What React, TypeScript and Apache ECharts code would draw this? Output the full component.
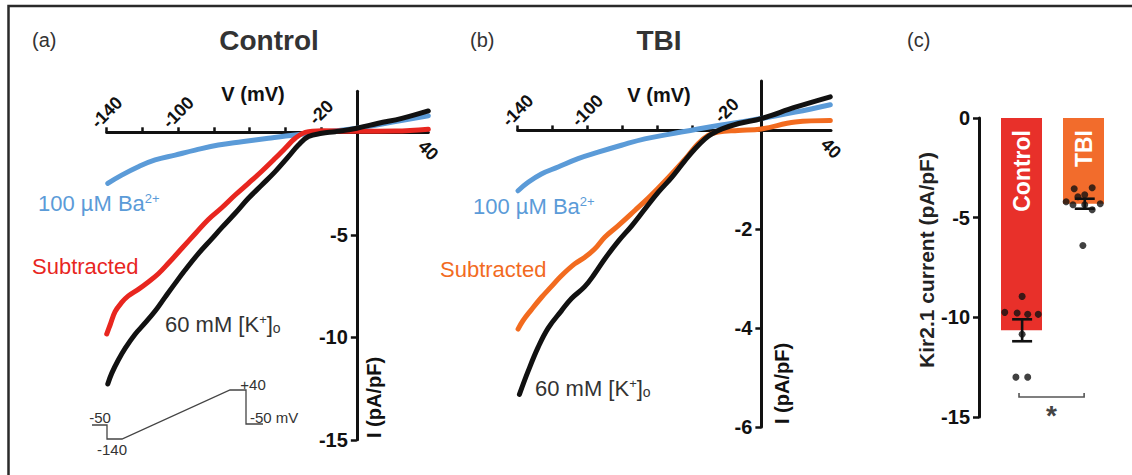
import { useEffect, useRef } from "react";
import * as echarts from "echarts";

const FONT = '"Liberation Sans", Arial, Helvetica, sans-serif';

// ---------- Panel (a) Control: I–V traces, [V (mV), I (pA/pF)] ----------
const ctrlBa: [number, number][] = [
  [-139.4, -2.49], [-131.6, -2.09], [-122.3, -1.68], [-112.9, -1.35], [-101.7, -1.11],
  [-90.5, -0.87], [-77.5, -0.62], [-64.4, -0.46], [-49.5, -0.29], [-34.5, -0.13],
  [-19.6, 0], [0, 0.2], [20, 0.5], [40, 0.81],
];
const ctrlSub: [number, number][] = [
  [-140, -9.84], [-138.1, -9.4], [-135.3, -8.75], [-131.6, -8.3], [-127.9, -7.98],
  [-122.3, -7.66], [-116.7, -7.3], [-111.1, -6.9], [-105.5, -6.39], [-97.5, -5.62],
  [-90.5, -4.95], [-83.1, -4.25], [-75.6, -3.68], [-68.1, -3.06], [-60.7, -2.49],
  [-53.2, -1.9], [-45.7, -1.27], [-40.1, -0.78], [-34.5, -0.29], [-28.9, 0],
  [-19.6, 0.08], [0, 0.05], [21.4, 0.06], [40, 0.15],
];
const ctrlK: [number, number][] = [
  [-139.4, -12.28], [-137.2, -11.76], [-133.5, -11.11], [-129.7, -10.54], [-124.1, -9.85],
  [-118.5, -9.3], [-112.9, -8.72], [-107.3, -8.04], [-101.7, -7.37], [-96.1, -6.72],
  [-88.7, -5.92], [-81.2, -5.2], [-75.6, -4.65], [-68.1, -3.95], [-60.7, -3.22],
  [-53.2, -2.57], [-45.7, -1.92], [-38.3, -1.19], [-32.7, -0.62], [-27.1, -0.21],
  [-19.6, -0.05], [-12.1, 0.03], [0, 0.2], [12.1, 0.44], [25.2, 0.68], [40, 1.04],
];

// ---------- Panel (b) TBI ----------
const tbiBa: [number, number][] = [
  [-139.8, -1.22], [-134, -1.05], [-126.4, -0.88], [-116.8, -0.74], [-105.3, -0.57],
  [-93.8, -0.44], [-80.4, -0.3], [-67, -0.17], [-51.7, -0.07], [-36.4, 0.03],
  [-21, 0.12], [0, 0.24], [19.5, 0.37], [39.6, 0.52],
];
const tbiSub: [number, number][] = [
  [-139.8, -4.02], [-137, -3.85], [-132.2, -3.63], [-126.4, -3.38], [-120.7, -3.16],
  [-114.9, -2.94], [-107.3, -2.7], [-101.6, -2.57], [-95.8, -2.4], [-90, -2.16],
  [-82.4, -1.93], [-72.7, -1.62], [-65, -1.37], [-57.4, -1.1], [-49.7, -0.81],
  [-42.1, -0.51], [-36.4, -0.27], [-30.6, -0.1], [-24.9, -0.03], [-13.4, 0],
  [0, 0.03], [19.5, 0.17], [39.6, 0.2],
];
const tbiK: [number, number][] = [
  [-139, -5.34], [-134, -4.87], [-128.3, -4.39], [-122.5, -4.0], [-114.9, -3.65],
  [-109.1, -3.4], [-101.5, -3.16], [-95.8, -2.9], [-90, -2.6], [-82.4, -2.25],
  [-74.5, -1.93], [-66.9, -1.59], [-59.2, -1.25], [-51.5, -0.95], [-43.9, -0.61],
  [-38.1, -0.37], [-32.4, -0.17], [-28.4, -0.07], [-22.6, 0.03], [-13, 0.14],
  [0, 0.24], [19.5, 0.47], [39.6, 0.68],
];

// ---------- Axis ticks / labels ----------
const ivTickValues = [-140, -120, -100, -80, -60, -40, -20];
const ivLabelValues = [-140, -100, -20];
const ivEndLabelValues = [40];
const ctrlYValues = [-15, -10, -5];
const tbiYValues = [-6, -4, -2];
const ctrlYRange = [-15, 2];
const tbiYRange = [-6, 1];
const vRange = [-140, 40];

// ---------- Panel (c) Kir2.1 current ----------
const groups = ["Control", "TBI"];
const groupX = [1, 2];
const groupMeans = [-10.65, -4.3];
const groupErrX = [1.01, 2.02];
const groupSemLow = [-11.2, -4.55];
const groupSemHigh = [-10.1, -4.05];
const controlPoints: [number, number][] = [
  [1.01, -8.95], [0.73, -9.75], [0.93, -9.78], [1.1, -9.85], [1.27, -9.85],
  [1.01, -10.85], [0.91, -13.0], [1.1, -13.0],
];
const tbiPoints: [number, number][] = [
  [1.85, -3.55], [2.14, -3.5], [2.02, -3.85], [1.91, -3.95], [1.72, -4.2],
  [1.83, -4.35], [2.02, -4.35], [2.27, -4.3], [2.14, -4.6], [1.99, -6.4],
];
const sigBracket = [0.96, 2.01, -14.0];
const sigMark = "*";

const protocolLabels = ["-50", "-140", "+40", "-50 mV"];

const BLUE = "#5b9bd8";
const RED = "#e8261f";
const ORANGE = "#f26b1f";
const BLACK = "#111111";
const BAR_RED = "#e8302a";
const BAR_ORANGE = "#f26c2c";

type G = { left: number; top: number; width: number; height: number };
const gridA: G = { left: 106.7, top: 91.3, width: 321.6, height: 348.5 };
const gridB: G = { left: 517.7, top: 81, width: 313.3, height: 346 };
const gridC: G = { left: 990.5, top: 118, width: 124, height: 299 };

const lblStyle = { fontFamily: FONT, fontWeight: "bold", color: BLACK };
const LABEL_ROT = -45;

function ivXAxes(grid: number, g: G, yr: number[]) {
  // pixel distances from grid edges to the zero lines
  const fromTop = (g.height * yr[1]) / (yr[1] - yr[0]);
  const fromBottom = g.height - fromTop;
  return [
    {
      type: "value", gridIndex: grid, min: vRange[0], max: vRange[1], position: "top", offset: -fromTop,
      axisLine: { show: true, onZero: false, lineStyle: { color: BLACK, width: 3 } },
      axisTick: { show: true, length: 5, customValues: ivTickValues, lineStyle: { color: BLACK, width: 2.5 } },
      axisLabel: {
        show: true, customValues: ivLabelValues, rotate: LABEL_ROT, margin: 20,
        align: "center", verticalAlign: "middle", fontSize: 18, ...lblStyle,
      },
      splitLine: { show: false },
    },
    {
      type: "value", gridIndex: grid, min: vRange[0], max: vRange[1], position: "bottom", offset: -fromBottom,
      axisLine: { show: false, onZero: false },
      axisTick: { show: false },
      axisLabel: {
        show: true, customValues: ivEndLabelValues, rotate: LABEL_ROT, margin: 18,
        align: "center", verticalAlign: "middle", fontSize: 18, ...lblStyle,
      },
      splitLine: { show: false },
    },
  ];
}

function ivYAxis(grid: number, g: G, yr: number[], values: number[]) {
  const fromLeft = (g.width * (0 - vRange[0])) / (vRange[1] - vRange[0]);
  return {
    type: "value", gridIndex: grid, min: yr[0], max: yr[1], position: "left", offset: -fromLeft,
    axisLine: { show: true, onZero: false, lineStyle: { color: BLACK, width: 3 } },
    axisTick: { show: true, length: 6, customValues: values, lineStyle: { color: BLACK, width: 2.5 } },
    axisLabel: { show: true, customValues: values, margin: 9, fontSize: 20, ...lblStyle },
    splitLine: { show: false },
  };
}

function trace(data: [number, number][], color: string, xi: number, yi: number) {
  return {
    type: "line", data, xAxisIndex: xi, yAxisIndex: yi, showSymbol: false, smooth: 0.4, clip: false,
    lineStyle: { color, width: 5, cap: "round", join: "round" }, silent: true,
  };
}

function txt(x: number, y: number, text: string, extra: any = {}, rot = 0) {
  const align = extra.align || "left";
  const va = extra.verticalAlign || "middle";
  return {
    type: "text", x, y, rotation: rot, silent: true,
    style: {
      text, fill: extra.fill || "#333", fontFamily: FONT,
      fontSize: extra.fontSize || 20, fontWeight: extra.fontWeight || "normal",
      align, textAlign: align, verticalAlign: va, textVerticalAlign: va,
      rich: extra.rich,
    },
  };
}

function baLabel(x: number, y: number) {
  return txt(x, y, "{m|100 µM Ba}{s|2+}", {
    fill: BLUE,
    rich: {
      m: { fontSize: 22, fill: BLUE, fontFamily: FONT },
      s: { fontSize: 13, fill: BLUE, fontFamily: FONT, verticalAlign: "top" },
    },
  });
}
function kLabel(x: number, y: number) {
  return txt(x, y, "{m|60 mM [K}{s|+}{m|]}{o|o}", {
    fill: "#333",
    rich: {
      m: { fontSize: 22, fill: "#333", fontFamily: FONT },
      s: { fontSize: 13, fill: "#333", fontFamily: FONT, verticalAlign: "top" },
      o: { fontSize: 14, fill: "#333", fontFamily: FONT, verticalAlign: "bottom" },
    },
  });
}

export default function App() {
  const ref = useRef<HTMLDivElement>(null);
  useEffect(() => {
    document.body.style.margin = "0";
    if (!ref.current) return;
    const chart = echarts.init(ref.current, null, { renderer: "svg" });

    const barData = groups.map((g, i) => ({
      name: g,
      value: [groupX[i], groupMeans[i]],
      itemStyle: { color: i === 0 ? BAR_RED : BAR_ORANGE },
    }));
    const errData = groups.map((_, i) => [groupErrX[i], groupSemLow[i], groupSemHigh[i]]);

    const gridOpt = (g: G) => ({ ...g, outerBoundsMode: "none", containLabel: false });

    const option: any = {
      animation: false,
      grid: [gridOpt(gridA), gridOpt(gridB), gridOpt(gridC)],
      xAxis: [
        ...ivXAxes(0, gridA, ctrlYRange),
        ...ivXAxes(1, gridB, tbiYRange),
        { type: "value", gridIndex: 2, min: 0.5, max: 2.5, show: false, splitLine: { show: false } },
      ],
      yAxis: [
        ivYAxis(0, gridA, ctrlYRange, ctrlYValues),
        ivYAxis(1, gridB, tbiYRange, tbiYValues),
        {
          type: "value", gridIndex: 2, min: -15, max: 0, interval: 5, position: "left", offset: 11.5,
          axisLine: { show: true, onZero: false, lineStyle: { color: BLACK, width: 3 } },
          axisTick: { show: true, length: 6, lineStyle: { color: BLACK, width: 2.5 } },
          axisLabel: { show: true, margin: 9, fontSize: 20, ...lblStyle },
          splitLine: { show: false },
        },
      ],
      series: [
        trace(ctrlBa, BLUE, 0, 0),
        trace(ctrlSub, RED, 0, 0),
        trace(ctrlK, BLACK, 0, 0),
        trace(tbiBa, BLUE, 2, 1),
        trace(tbiSub, ORANGE, 2, 1),
        trace(tbiK, BLACK, 2, 1),
        {
          type: "bar", xAxisIndex: 4, yAxisIndex: 2, barWidth: 41, data: barData, silent: true,
          label: {
            show: true, position: "insideTop", distance: 12, rotate: 90,
            align: "right", verticalAlign: "middle", formatter: "{b}",
            color: "#ffffff", fontFamily: FONT, fontWeight: "bold", fontSize: 23,
          },
          markLine: {
            silent: true, symbol: "none", label: { show: false },
            lineStyle: { color: "#666", width: 1, type: [2, 2] },
            data: [[{ coord: [0.42, 0] }, { coord: [2.56, 0] }]],
          },
        },
        {
          type: "custom", xAxisIndex: 4, yAxisIndex: 2, data: errData, silent: true, z: 5,
          renderItem: (_p: any, api: any) => {
            const x = api.value(0);
            const lo = api.coord([x, api.value(1)]);
            const hi = api.coord([x, api.value(2)]);
            const hw = 10;
            const st = { stroke: BLACK, lineWidth: 2.6 };
            return {
              type: "group",
              children: [
                { type: "line", shape: { x1: lo[0], y1: lo[1], x2: hi[0], y2: hi[1] }, style: st },
                { type: "line", shape: { x1: lo[0] - hw, y1: lo[1], x2: lo[0] + hw, y2: lo[1] }, style: st },
                { type: "line", shape: { x1: hi[0] - hw, y1: hi[1], x2: hi[0] + hw, y2: hi[1] }, style: st },
              ],
            };
          },
        },
        {
          type: "scatter", xAxisIndex: 4, yAxisIndex: 2, data: controlPoints, symbolSize: 7, silent: true, z: 6,
          itemStyle: { color: BLACK },
        },
        {
          type: "scatter", xAxisIndex: 4, yAxisIndex: 2, data: tbiPoints, symbolSize: 7, silent: true, z: 6,
          itemStyle: { color: BLACK },
        },
        {
          type: "custom", xAxisIndex: 4, yAxisIndex: 2, data: [sigBracket], silent: true, z: 5,
          renderItem: (_p: any, api: any) => {
            const a = api.coord([api.value(0), api.value(2)]);
            const b = api.coord([api.value(1), api.value(2)]);
            const st = { stroke: "#555", lineWidth: 1.6, fill: "none" };
            return {
              type: "group",
              children: [
                { type: "polyline", shape: { points: [[a[0], a[1] - 4], a, b, [b[0], b[1] - 4]] }, style: st },
                {
                  type: "text", x: (a[0] + b[0]) / 2, y: a[1] + 18,
                  style: { text: sigMark, fill: "#444", fontFamily: FONT, fontWeight: "bold", fontSize: 28, align: "center", verticalAlign: "middle" },
                },
              ],
            };
          },
        },
      ],
      graphic: [
        { type: "rect", silent: true, shape: { x: 8.5, y: 6, width: 1300, height: 600 }, style: { fill: "none", stroke: "#2a2a2a", lineWidth: 2.5 } },
        txt(32, 40, "(a)", { fontSize: 20 }),
        txt(470, 40, "(b)", { fontSize: 20 }),
        txt(907, 40, "(c)", { fontSize: 20 }),
        txt(269, 40, "Control", { fontSize: 28, fontWeight: "bold", align: "center" }),
        txt(659, 40, "TBI", { fontSize: 28, fontWeight: "bold", align: "center" }),
        txt(253, 94, "V (mV)", { fontSize: 20, fontWeight: "bold", align: "center", fill: BLACK }),
        txt(659, 95, "V (mV)", { fontSize: 20, fontWeight: "bold", align: "center", fill: BLACK }),
        txt(364, 438, "I (pA/pF)", { fontSize: 20, fontWeight: "bold", align: "left", verticalAlign: "top", fill: BLACK }, Math.PI / 2),
        txt(772, 424, "I (pA/pF)", { fontSize: 20, fontWeight: "bold", align: "left", verticalAlign: "top", fill: BLACK }, Math.PI / 2),
        txt(926, 260, "Kir2.1 current (pA/pF)", { fontSize: 21, fontWeight: "bold", align: "center", fill: "#222" }, Math.PI / 2),
        baLabel(38, 203),
        baLabel(473, 206),
        txt(32, 266, "Subtracted", { fontSize: 22, fill: RED }),
        txt(440, 269, "Subtracted", { fontSize: 22, fill: ORANGE }),
        kLabel(165, 324),
        kLabel(535, 388),
        {
          type: "polyline", silent: true,
          shape: { points: [[92, 425], [107, 425], [107, 439], [122, 439], [230, 390], [246, 390], [246, 424], [263, 424]] },
          style: { stroke: "#444", lineWidth: 1.3, fill: "none" },
        },
        txt(100, 417, protocolLabels[0], { fontSize: 15, align: "center" }),
        txt(112, 449, protocolLabels[1], { fontSize: 15, align: "center" }),
        txt(253, 384, protocolLabels[2], { fontSize: 15, align: "center" }),
        txt(250, 417, protocolLabels[3], { fontSize: 15 }),
      ],
    };
    chart.setOption(option);
    return () => chart.dispose();
  }, []);
  return <div ref={ref} style={{ width: 1132, height: 475 }} />;
}
